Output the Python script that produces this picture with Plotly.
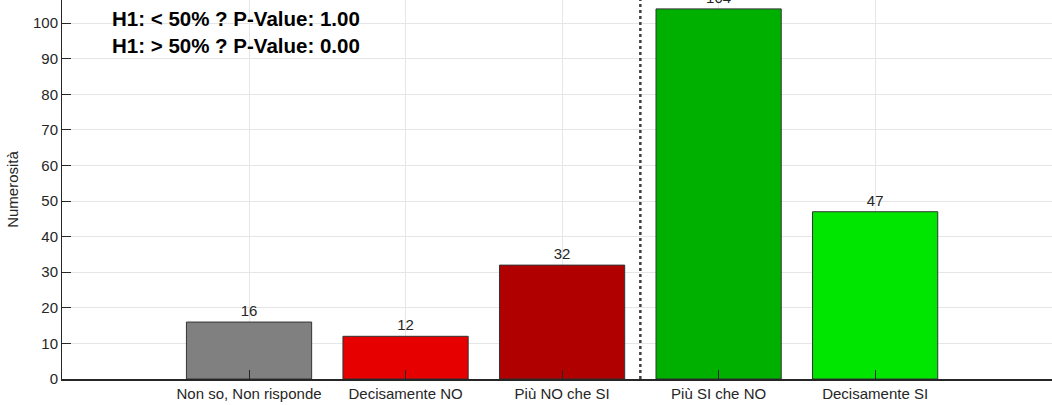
import plotly.graph_objects as go

categories = ["Non so, Non risponde", "Decisamente NO", "Più NO che SI", "Più SI che NO", "Decisamente SI"]
values = [16, 12, 32, 104, 47]
colors = ["#808080", "#E60000", "#B00000", "#00B000", "#00E600"]
positions = [1, 2, 3, 4, 5]
y_ticks = [0, 10, 20, 30, 40, 50, 60, 70, 80, 90, 100]
annotation_lines = ["H1: < 50% ? P-Value: 1.00", "H1: > 50% ? P-Value: 0.00"]
divider_x = 3.5

FONT = "Liberation Sans, Arial, sans-serif"

fig = go.Figure()
fig.add_trace(go.Bar(
    x=positions, y=values, width=0.8,
    marker=dict(color=colors, line=dict(color="#333333", width=1)),
    text=[str(v) for v in values], textposition="outside",
    textfont=dict(family=FONT, size=15, color="#262626"),
    cliponaxis=True, showlegend=False, hoverinfo="skip",
))

fig.add_shape(type="line", x0=divider_x, x1=divider_x, y0=0, y1=1, yref="paper",
              line=dict(color="#404040", width=2.5, dash="dot"), layer="above")

for txt, yv in zip(annotation_lines, [101.2, 93.6]):
    fig.add_annotation(x=0.11, y=yv, xref="x", yref="y", text="<b>" + txt + "</b>",
                       showarrow=False, xanchor="left", yanchor="middle",
                       font=dict(family=FONT, size=20.5, color="#000000"))

fig.update_layout(
    width=1052, height=405,
    margin=dict(l=62, r=0, t=0, b=26),
    plot_bgcolor="white", paper_bgcolor="white",
    font=dict(family=FONT, size=15, color="#262626"),
    bargap=0.2,
)
fig.update_xaxes(
    range=[-0.195, 6.13], tickvals=positions, ticktext=categories,
    showgrid=True, gridcolor="#E6E6E6", gridwidth=1,
    showline=True, linecolor="#262626", linewidth=1.5,
    ticks="inside", ticklen=9, tickcolor="#262626", tickwidth=1,
    layer="above traces", zeroline=False, automargin=False,
    tickfont=dict(family=FONT, size=15, color="#262626"),
)
fig.update_yaxes(
    range=[0, 106.5], tickvals=y_ticks,
    showgrid=True, gridcolor="#E6E6E6", gridwidth=1,
    showline=True, linecolor="#262626", linewidth=1,
    ticks="inside", ticklen=9, tickcolor="#262626", tickwidth=1,
    layer="above traces", zeroline=False, automargin=False,
    title=dict(text="Numerosità", standoff=10, font=dict(family=FONT, size=15, color="#262626")),
    tickfont=dict(family=FONT, size=15, color="#262626"),
)

fig.write_html("out.html", config={"displayModeBar": False},
               post_script="document.body.style.margin='0';document.body.style.overflow='hidden';")
